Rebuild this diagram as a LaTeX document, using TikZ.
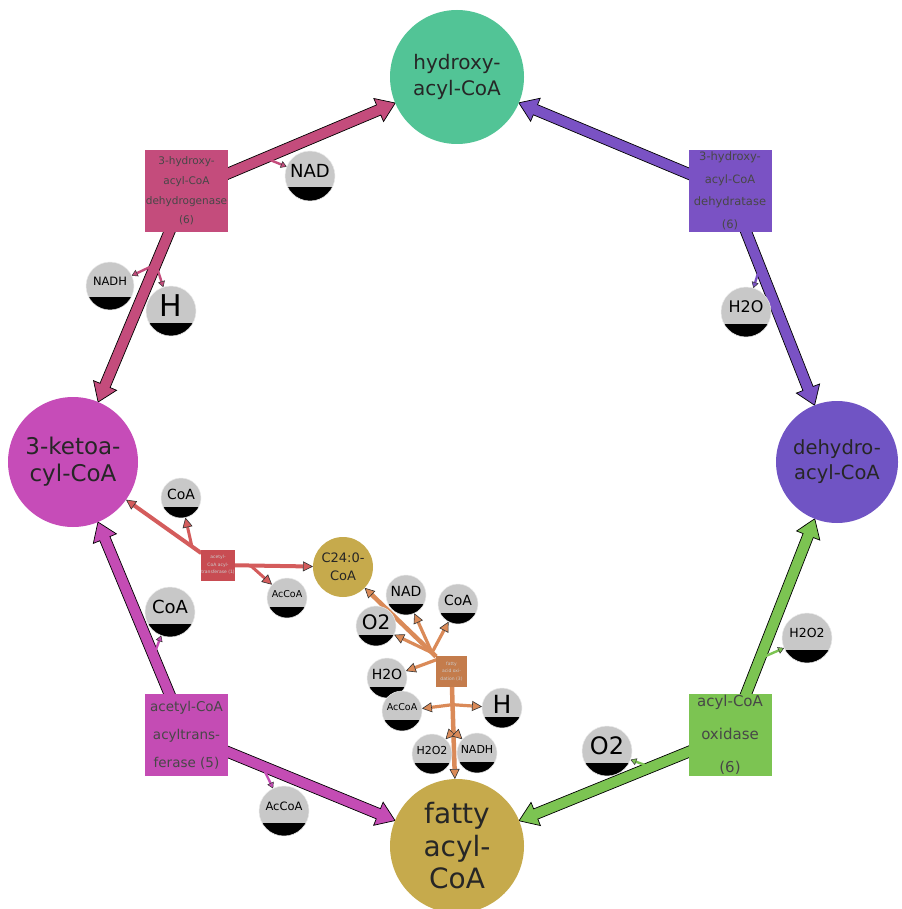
\documentclass[tikz,border=0pt]{standalone}
\usepackage{fontspec}
\setmainfont{DejaVu Sans}
\usetikzlibrary{calc,arrows.meta}
\pgfdeclarelayer{bg}
\pgfsetlayers{bg,main}
\definecolor{cHy}{HTML}{52C496}
\definecolor{cDe}{HTML}{7054C4}
\definecolor{cKe}{HTML}{C64CB8}
\definecolor{cFa}{HTML}{C6AA4C}
\definecolor{cPk}{HTML}{C44C7C}
\definecolor{cPu}{HTML}{7A52C4}
\definecolor{cMg}{HTML}{C44CB4}
\definecolor{cGr}{HTML}{7CC452}
\definecolor{cRd}{HTML}{C84C52}
\definecolor{cRdA}{HTML}{D45C5C}
\definecolor{cOr}{HTML}{C47C4C}
\definecolor{cOrA}{HTML}{DA8A58}
\definecolor{cGy}{HTML}{C8C8C8}
\newcommand\fs[2]{\fontsize{#1}{#2}\selectfont}
% #1 from node, #2 to node, #3 colour, #4 radius of target
\newcommand\bigarr[4]{%
  \draw[black, line width=0.7pt, fill=#3, line join=miter]
    let \p1=(#1.center), \p2=($(#2.center)!#4!(#1.center)$), \p3=($(\p2)!18pt!(\p1)$) in
    ($(\p1)!5.5pt!90:(\p2)$) -- ($(\p3)!5.5pt!90:(\p2)$) -- ($(\p3)!12.5pt!90:(\p2)$) --
    (\p2) -- ($(\p3)!12.5pt!-90:(\p2)$) -- ($(\p3)!5.5pt!-90:(\p2)$) --
    ($(\p1)!5.5pt!-90:(\p2)$) -- cycle;}
\begin{document}
\begin{tikzpicture}[x=1pt,y=-1pt,
  big/.style={circle, inner sep=0pt, outer sep=0pt, align=center, text=black!85},
  enz/.style={rectangle, inner sep=0pt, outer sep=0pt, minimum width=83pt, minimum height=82pt, align=center, text=black!72},
  tiny/.style={rectangle, inner sep=0pt, outer sep=0pt, minimum size=31pt, align=center, text=white!80!black, font=\fs{4.5}{7.5}},
  met/.style={circle, inner sep=0pt, outer sep=0pt, fill=cGy, draw=white!92!black, line width=0.5pt,
    path picture={\fill[black] (path picture bounding box.south west) rectangle ($(path picture bounding box.south east)!0.27!(path picture bounding box.north east)$);}},
  side/.style={line width=2.4pt, draw=#1, -{Triangle[length=6pt 0, width=7pt 0, fill=#1, color=black!80, line width=0.5pt]}},
  sarr/.style 2 args={line width=#2, draw=#1, -{Triangle[length=10pt 0, width=10pt 0, fill=#1, color=black!80, line width=0.6pt]}}
]
\begin{pgfonlayer}{bg}
\fill[white] (0,0) rectangle (901,909);
\end{pgfonlayer}
\useasboundingbox (0,0) rectangle (901,909);

% main metabolites
\node[big, fill=cHy, minimum size=134pt, font=\fs{20}{26}] (hy) at (457,77) {hydroxy-\\acyl-CoA};
\node[big, fill=cDe, minimum size=122pt, font=\fs{19.5}{25}] (de) at (837,462) {dehydro-\\acyl-CoA};
\node[big, fill=cKe, minimum size=130pt, font=\fs{23}{27}] (ke) at (73,462) {3-ketoa-\\cyl-CoA};
\node[big, fill=cFa, minimum size=134pt, font=\fs{28}{32.5}] (fa) at (457,846) {fatty\\acyl-\\CoA};
\node[big, fill=cFa, minimum size=60pt, font=\fs{13}{18}] (c24) at (343,567) {C24:0-\\CoA};

% enzymes
\node[enz, fill=cPk, font=\fs{10.5}{19.7}] (dh) at (186.5,191) {3-hydroxy-\\acyl-CoA\\dehydrogenase\\(6)};
\node[enz, fill=cPu, font=\fs{11.5}{22.5}] (dt) at (730,191) {3-hydroxy-\\acyl-CoA\\dehydratase\\(6)};
\node[enz, fill=cMg, font=\fs{13.5}{28}] (at) at (186.5,735) {acetyl-CoA\\acyltrans-\\ferase (5)};
\node[enz, fill=cGr, font=\fs{15}{33}] (ox) at (730,735) {acyl-CoA\\oxidase\\(6)};
\node[tiny, fill=cRd] (rb) at (218,565) {acetyl-\\CoA acyl-\\transferase (1)};
\node[tiny, fill=cOr] (ob) at (451.5,671.5) {fatty\\acid oxi-\\dation (3)};

% cofactors of the cycle
\node[met, minimum size=50pt, label={[font=\fs{18}{18}, yshift=5pt]center:NAD}] (nad1) at (310,176) {};
\node[met, minimum size=48pt, label={[font=\fs{11.5}{12}, yshift=5pt]center:NADH}] (nadh1) at (110,286) {};
\node[met, minimum size=50pt, label={[font=\fs{30}{30}, yshift=5pt]center:H}] (h1) at (171,311) {};
\node[met, minimum size=50pt, label={[font=\fs{16}{16}, yshift=5pt]center:H2O}] (wat1) at (746,312) {};
\node[met, minimum size=50pt, label={[font=\fs{18}{18}, yshift=5pt]center:CoA}] (coa1) at (170,612) {};
\node[met, minimum size=50pt, label={[font=\fs{11.5}{12}, yshift=5pt]center:AcCoA}] (acc1) at (284,811) {};
\node[met, minimum size=50pt, label={[font=\fs{24}{24}, yshift=5pt]center:O2}] (oxy1) at (607,751) {};
\node[met, minimum size=50pt, label={[font=\fs{12.5}{13}, yshift=5pt]center:H2O2}] (per1) at (807,638) {};

% cofactors of the side reactions
\node[met, minimum size=40pt, label={[font=\fs{14}{14}, yshift=4pt]center:CoA}] (coa2) at (181,498) {};
\node[met, minimum size=40pt, label={[font=\fs{9.5}{10}, yshift=4pt]center:AcCoA}] (acc2) at (287,598) {};
\node[met, minimum size=40pt, label={[font=\fs{14}{14}, yshift=4pt]center:NAD}] (nad2) at (406,595) {};
\node[met, minimum size=40pt, label={[font=\fs{14}{14}, yshift=4pt]center:CoA}] (coa3) at (458,604) {};
\node[met, minimum size=40pt, label={[font=\fs{20}{20}, yshift=4pt]center:O2}] (oxy2) at (376,626) {};
\node[met, minimum size=40pt, label={[font=\fs{14}{14}, yshift=4pt]center:H2O}] (wat2) at (387,678) {};
\node[met, minimum size=40pt, label={[font=\fs{9.5}{10}, yshift=4pt]center:AcCoA}] (acc3) at (402,711) {};
\node[met, minimum size=40pt, label={[font=\fs{25}{25}, yshift=4pt]center:H}] (h2) at (502,708) {};
\node[met, minimum size=40pt, label={[font=\fs{11}{11}, yshift=4pt]center:H2O2}] (per2) at (432,754) {};
\node[met, minimum size=40pt, label={[font=\fs{11}{11}, yshift=4pt]center:NADH}] (nadh2) at (477,753) {};

\begin{pgfonlayer}{bg}
% thick cycle arrows
\bigarr{dh}{hy}{cPk}{67pt}
\bigarr{dh}{ke}{cPk}{65pt}
\bigarr{dt}{hy}{cPu}{67pt}
\bigarr{dt}{de}{cPu}{61pt}
\bigarr{at}{ke}{cMg}{65pt}
\bigarr{at}{fa}{cMg}{67pt}
\bigarr{ox}{de}{cGr}{61pt}
\bigarr{ox}{fa}{cGr}{67pt}
% cofactor branches
\draw[side=cPk] ($(dh)!0.29!(hy)$) -- (nad1);
\draw[side=cPk] ($(dh)!0.27!(ke)$) -- (nadh1);
\draw[side=cPk] ($(dh)!0.27!(ke)$) -- (h1);
\draw[side=cPu] ($(dt)!0.28!(de)$) -- (wat1);
\draw[side=cMg] ($(at)!0.29!(ke)$) -- (coa1);
\draw[side=cMg] ($(at)!0.28!(fa)$) -- (acc1);
\draw[side=cGr] ($(ox)!0.28!(de)$) -- (per1);
\draw[side=cGr] ($(ox)!0.29!(fa)$) -- (oxy1);
% acetyl-CoA acyltransferase (1)
\draw[sarr={cRdA}{4pt}] (rb) -- (ke);
\draw[sarr={cRdA}{4pt}] (rb) -- (c24);
\draw[sarr={cRdA}{3pt}] ($(rb)!0.18!(ke)$) -- (coa2);
\draw[sarr={cRdA}{3pt}] ($(rb)!0.26!(c24)$) -- (acc2);
% fatty acid oxidation (3)
\draw[sarr={cOrA}{4.5pt}] (ob) -- (c24);
\draw[sarr={cOrA}{4.5pt}] (ob) -- (fa);
\draw[sarr={cOrA}{3.2pt}] ($(ob)!0.18!(c24)$) -- (oxy2);
\draw[sarr={cOrA}{3.2pt}] ($(ob)!0.18!(c24)$) -- (nad2);
\draw[sarr={cOrA}{3.2pt}] ($(ob)!0.18!(c24)$) -- (coa3);
\draw[sarr={cOrA}{3.2pt}] ($(ob)!0.12!(c24)$) -- (wat2);
\draw[sarr={cOrA}{3.2pt}] ($(ob)!0.19!(fa)$) -- (acc3);
\draw[sarr={cOrA}{3.2pt}] ($(ob)!0.19!(fa)$) -- (h2);
\draw[sarr={cOrA}{3.2pt}] ($(ob)!0.34!(fa)$) -- (per2);
\draw[sarr={cOrA}{3.2pt}] ($(ob)!0.34!(fa)$) -- (nadh2);
\end{pgfonlayer}
\end{tikzpicture}
\end{document}
